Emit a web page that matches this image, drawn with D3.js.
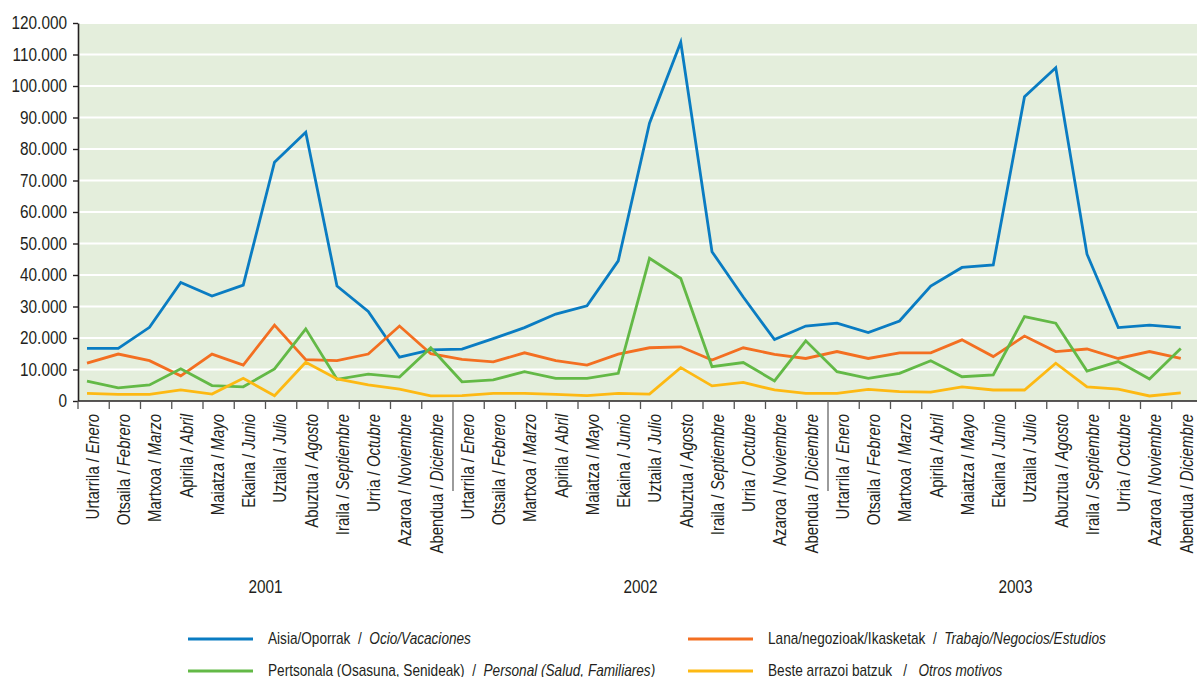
<!DOCTYPE html>
<html><head><meta charset="utf-8">
<script src="https://cdn.jsdelivr.net/npm/d3@7"></script>
<style>
html,body{margin:0;padding:0;background:#fff;}
svg text{font-family:"Liberation Sans",Arial,sans-serif;fill:#231f20;}
</style></head>
<body><svg id="c" width="1197" height="677"></svg>
<script>
const monthsEu = ["Urtarrila","Otsaila","Martxoa","Apirila","Maiatza","Ekaina","Uztaila","Abuztua","Iraila","Urria","Azaroa","Abendua"];
const monthsEs = ["Enero","Febrero","Marzo","Abril","Mayo","Junio","Julio","Agosto","Septiembre","Octubre","Noviembre","Diciembre"];
const years = ["2001","2002","2003"];
const yTicks = [0,10000,20000,30000,40000,50000,60000,70000,80000,90000,100000,110000,120000];

const ocio = [16700,16700,23400,37600,33300,36800,75800,85300,36500,28400,13900,16200,
              16500,19800,23300,27600,30200,44500,88200,113900,47400,33000,19500,23800,
              24700,21700,25400,36500,42400,43200,96600,105800,46600,23300,24100,23300];
const trabajo = [12000,14900,12800,8000,14900,11400,24100,13100,12800,14900,23800,15000,
                 13200,12400,15300,12800,11400,14900,16900,17200,13000,16900,14800,13500,
                 15700,13500,15300,15300,19400,14100,20600,15700,16500,13500,15700,13500];
const personal = [6300,4200,5100,10200,4900,4500,10200,22900,6900,8500,7600,16900,
                  6100,6700,9300,7200,7200,8800,45300,38900,10900,12200,6400,19100,
                  9300,7200,8800,12800,7700,8300,26800,24700,9500,12500,7000,16700];
const otros = [2400,2100,2100,3500,2200,7200,1700,12300,7000,5100,3800,1600,
               1700,2400,2400,2100,1700,2400,2200,10600,4800,5900,3500,2400,
               2400,3700,3000,2800,4500,3500,3500,12000,4500,3800,1600,2600];

const seriesNames = [
  {eu:"Aisia/Oporrak", es:"Ocio/Vacaciones", sep:"  /  "},
  {eu:"Lana/negozioak/Ikasketak", es:"Trabajo/Negocios/Estudios", sep:"  /  "},
  {eu:"Pertsonala (Osasuna, Senideak)", es:"Personal (Salud, Familiares)", sep:"  /  "},
  {eu:"Beste arrazoi batzuk", es:"Otros motivos", sep:"   /   "}
];
const seriesData = [ocio, trabajo, personal, otros];
const colors = ["#0a7cc2","#f36f21","#63b946","#fdb913"];

const SX = 0.83; // horizontal condensing of the font

const svg = d3.select("#c");
const n = 36;
const x = d3.scaleBand().domain(d3.range(n)).range([78, 78 + 36*31.25]).padding(0);
const bw = x.bandwidth();
const y = d3.scaleLinear().domain([0,120000]).range([401,23]);
const px = i => x(i) + 9;

// background
svg.append("rect").attr("x",78).attr("y",y(120000)).attr("width",1197-78).attr("height",y(0)-y(120000)).attr("fill","#e4eedc");
// grid
svg.append("g").selectAll("line").data(yTicks.filter(d=>d>0)).join("line")
  .attr("x1",78).attr("x2",1197).attr("y1",d=>y(d)).attr("y2",d=>y(d))
  .attr("stroke","#ffffff").attr("stroke-width",2);

// lines
const line = d3.line().x((d,i)=>px(i)).y(d=>y(d));
seriesData.forEach((s,k)=>{
  svg.append("path").datum(s).attr("d",line).attr("fill","none")
    .attr("stroke",colors[k]).attr("stroke-width",2.8).attr("stroke-linejoin","miter");
});

// y axis
const fmt = d3.formatLocale({decimal:",",thousands:".",grouping:[3],currency:["","€"]}).format(",d");
const ya = svg.append("g").attr("transform","translate(78,0)")
  .call(d3.axisLeft(y).tickValues(yTicks).tickFormat(fmt).tickSize(5).tickSizeOuter(0).tickPadding(6));
ya.select(".domain").attr("stroke","#231f20").attr("stroke-width",1.6);
ya.selectAll(".tick line").attr("stroke","#231f20").attr("stroke-width",1.4);
ya.selectAll(".tick text").style("font-size","18.5px").attr("fill","#231f20")
  .attr("x",0).attr("transform",`translate(-11,0) scale(${SX},1)`);

// x axis
svg.append("line").attr("x1",78).attr("x2",1197).attr("y1",401).attr("y2",401).attr("stroke","#231f20").attr("stroke-width",1.6);
const bounds = d3.range(n+1);
svg.append("g").selectAll("line").data(bounds).join("line")
  .attr("x1",d=> d<n ? x(d) : x(n-1)+bw).attr("x2",d=> d<n ? x(d) : x(n-1)+bw)
  .attr("y1",401).attr("y2",d=> (d===12||d===24) ? 491 : 409)
  .attr("stroke",d=>(d===12||d===24)?"#666":"#555").attr("stroke-width",1.3);

// x labels
const lab = svg.append("g").selectAll("text").data(d3.range(n)).join("text")
  .attr("transform",i=>`translate(${x(i)+bw/2-1},414) rotate(-90) scale(${SX},1)`)
  .attr("text-anchor","end").attr("dy","0.35em").style("font-size","18px");
lab.append("tspan").text(i=>monthsEu[i%12]+" / ");
lab.append("tspan").style("font-style","italic").text(i=>monthsEs[i%12]);

// year labels
svg.append("g").selectAll("text").data(years).join("text")
  .attr("transform",(d,j)=>`translate(${x(j*12)+6*bw},593) scale(${SX},1)`).attr("text-anchor","middle")
  .style("font-size","18.5px").text(d=>d);

// legend
const legPos = [[188,639],[688,639],[188,671],[688,671]];
seriesNames.forEach((s,k)=>{
  const [lx,ly] = legPos[k];
  svg.append("line").attr("x1",lx).attr("x2",lx+65).attr("y1",ly).attr("y2",ly)
    .attr("stroke",colors[k]).attr("stroke-width",3);
  const t = svg.append("text").attr("transform",`translate(${lx+80},${ly+5}) scale(${SX},1)`)
    .attr("xml:space","preserve").style("font-size","16.4px");
  t.append("tspan").text(s.eu + s.sep);
  t.append("tspan").style("font-style","italic").text(s.es);
});
</script></body></html>
